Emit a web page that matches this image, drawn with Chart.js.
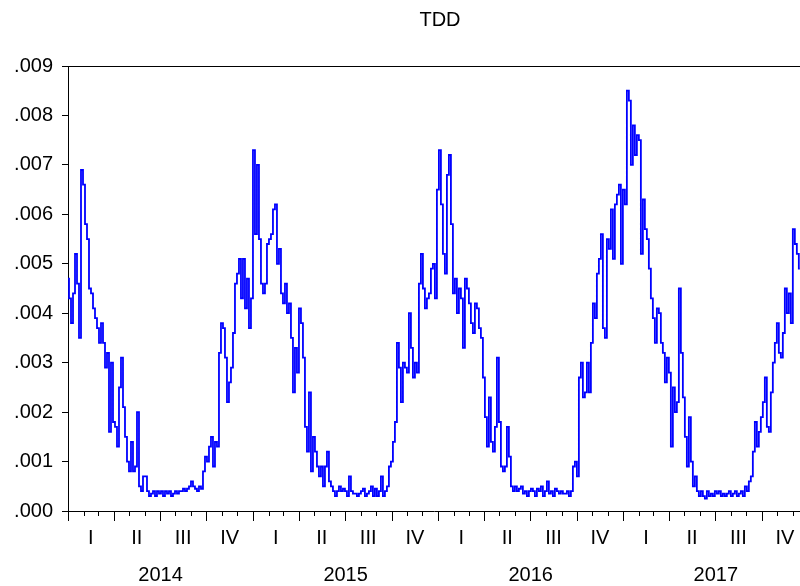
<!DOCTYPE html>
<html>
<head>
<meta charset="utf-8">
<script src="https://cdn.jsdelivr.net/npm/chart.js@4.4.1/dist/chart.umd.min.js"></script>
<style>
  html, body { margin: 0; padding: 0; background: #fff; }
  #wrap { width: 800px; height: 586px; }
</style>
</head>
<body>
<div id="wrap"><canvas id="chart" width="800" height="586"></canvas></div>
<script>
var title = 'TDD';
var years = [2014, 2015, 2016, 2017];
var quarters = ['I', 'II', 'III', 'IV'];
var yMin = 0, yMax = 0.009, yStep = 0.001;
var startYear = 2014;
var stepDays = 3.946;   // one reading every ~4 days
var xMax = 2017.955;    // picture is cut off in december 2017

// values, one every ~4 days
var tdd2014 = [
  .0047,.0043,.0038,.0044,.0052,.0046,.0035,.0069,.0066,.0058,
  .0055,.0045,.0044,.0041,.0039,.0037,.0034,.0038,.0034,.0029,
  .0032,.0016,.0030,.0018,.0017,.0013,.0025,.0031,.0021,.0015,
  .0010,.0008,.0014,.0008,.0009,.0020,.0005,.0004,.0007,.0007,
  .0004,.0003,.00035,.0004,.0003,.0004,.00035,.0004,.0003,.0004,
  .00035,.0004,.0003,.00035,.0004,.00035,.0004,.0004,.00045,.0004,
  .00045,.0005,.0006,.0005,.00045,.0004,.0005,.00045,.0008,.0011,
  .0010,.0013,.0015,.0009,.0014,.0013,.0032,.0038,.0037,.0031,
  .0022,.0026,.0029,.0036,.0046,.0048,.0051,.0043,.0051,.0041,
  .0047,.0037,.0043
];
var tdd2015 = [
  .0073,.0056,.0070,.0055,.0046,.0044,.0046,.0054,.0055,.0056,
  .0061,.0062,.0050,.0053,.0044,.0042,.0046,.0040,.0042,.0035,
  .0024,.0033,.0028,.0041,.0038,.0031,.0017,.0012,.0024,.0008,
  .0015,.0012,.0009,.0007,.0009,.0005,.0009,.0012,.0006,.0005,
  .0004,.0003,.0004,.0005,.0004,.00045,.0004,.0003,.0007,.0004,
  .00035,.00035,.0003,.00035,.0004,.00045,.0003,.00035,.0004,.0005,
  .0003,.00045,.0003,.0004,.0007,.0003,.0004,.0005,.0009,.0010,
  .0014,.0018,.0034,.0029,.0022,.0030,.0029,.0028,.0040,.0033,
  .0027,.0030,.0028,.0046,.0052,.0045,.0041,.0043,.0044,.0049,
  .0050,.0043,.0065
];
var tdd2016 = [
  .0073,.0062,.0052,.0048,.0068,.0072,.0058,.0044,.0047,.0040,
  .0045,.0043,.0033,.0047,.0045,.0042,.0038,.0036,.0042,.0041,
  .0037,.0035,.0027,.0019,.0013,.0023,.0014,.0012,.0017,.0031,
  .0018,.0009,.0008,.0009,.0017,.0011,.0005,.0004,.0005,.0004,
  .00045,.0005,.00035,.0004,.0003,.0004,.00045,.0004,.0003,.00045,
  .0004,.0005,.0003,.0004,.0006,.00035,.0004,.0003,.00045,.0004,
  .00035,.0004,.00035,.00035,.0004,.0003,.0004,.0009,.0010,.0007,
  .0027,.0030,.0023,.0024,.0030,.0024,.0034,.0042,.0039,.0048,
  .0051,.0056,.0037,.0035,.0055,.0053,.0061,.0051,.0062,.0064,
  .0066,.0050
];
var tdd2017 = [
  .0065,.0062,.0085,.0083,.0070,.0078,.0072,.0076,.0075,.0052,
  .0063,.0057,.0055,.0049,.0043,.0039,.0034,.0041,.0040,.0034,
  .0032,.0026,.0031,.0028,.0013,.0025,.0020,.0022,.0045,.0032,
  .0023,.0015,.0009,.0019,.0010,.0005,.0007,.0004,.0003,.0004,
  .0003,.00025,.0004,.0003,.00035,.0003,.0004,.00035,.0004,.0003,
  .00035,.0003,.00035,.0004,.0003,.00035,.0004,.0003,.00035,.0004,
  .0003,.0005,.0004,.0006,.0007,.0012,.0018,.0013,.0016,.0019,
  .0022,.0027,.0017,.0016,.0024,.0030,.0034,.0038,.0032,.0031,
  .0036,.0045,.0040,.0044,.0038,.0057,.0054,.0052,.0049
];

var tdd = tdd2014.concat(tdd2015, tdd2016, tdd2017);
var points = tdd.map(function(v, i) {
  return {x: startYear + i * stepDays / 365.25, y: v};
});

var font = '20px "Liberation Sans", Arial, sans-serif';

// month start as a fraction of the year
var monthPos = function(y, m) {
  var y0 = Date.UTC(y, 0, 1), y1 = Date.UTC(y + 1, 0, 1);
  return y + (Date.UTC(y, m, 1) - y0) / (y1 - y0);
};

var axisDecor = {
  id: 'axisDecor',
  afterDraw: function(chart) {
    var ctx = chart.ctx, xs = chart.scales.x, area = chart.chartArea;
    ctx.save();
    ctx.strokeStyle = '#000';
    ctx.lineWidth = 1;
    // frame line on top
    ctx.beginPath();
    ctx.moveTo(area.left, area.top + 0.5);
    ctx.lineTo(area.right, area.top + 0.5);
    ctx.stroke();

    // month ticks, long ones at quarters
    ctx.beginPath();
    years.concat([years[years.length - 1] + 1]).forEach(function(y) {
      for (var m = 0; m < 12; m++) {
        var v = monthPos(y, m);
        if (v > xMax) break;
        var px = Math.round(xs.getPixelForValue(v)) + 0.5;
        var len = (m % 3 === 0) ? 10 : 5;
        ctx.moveTo(px, area.bottom);
        ctx.lineTo(px, area.bottom + len);
      }
    });
    ctx.stroke();

    ctx.fillStyle = '#000';
    ctx.font = font;
    ctx.textAlign = 'center';
    ctx.textBaseline = 'middle';
    years.forEach(function(y) {
      quarters.forEach(function(q, k) {
        var mid = (monthPos(y, k * 3) + (k === 3 ? y + 1 : monthPos(y, k * 3 + 3))) / 2;
        ctx.fillText(q, xs.getPixelForValue(mid), area.bottom + 27);
      });
      ctx.fillText(String(y), xs.getPixelForValue(y + 0.5), area.bottom + 64);
    });

    ctx.fillText(title, 440, 20);
    ctx.restore();
  }
};

new Chart(document.getElementById('chart'), {
  type: 'line',
  data: {
    datasets: [{
      label: title,
      data: points,
      borderColor: '#0000ff',
      borderWidth: 1.8,
      pointRadius: 0,
      stepped: 'middle',
      fill: false
    }]
  },
  options: {
    responsive: false,
    devicePixelRatio: 1,
    animation: false,
    layout: { padding: { top: 66, right: 0, left: 0, bottom: 0 } },
    plugins: {
      legend: { display: false },
      tooltip: { enabled: false },
      title: { display: false }
    },
    scales: {
      x: {
        type: 'linear',
        min: startYear,
        max: xMax,
        grid: { display: false },
        border: { display: true, color: '#000', width: 1 },
        ticks: { display: false },
        afterFit: function(s) { s.height = 75; }
      },
      y: {
        min: yMin,
        max: yMax,
        grid: { display: true, drawOnChartArea: false, drawTicks: true, tickLength: 6, color: '#000' },
        border: { display: true, color: '#000', width: 1 },
        ticks: {
          stepSize: yStep,
          padding: 9,
          color: '#000',
          font: { family: '"Liberation Sans", Arial, sans-serif', size: 20 },
          callback: function(v) { return v.toFixed(3).replace(/^0/, ''); }
        },
        afterFit: function(s) { s.width = 68; }
      }
    }
  },
  plugins: [axisDecor]
});
</script>
</body>
</html>
